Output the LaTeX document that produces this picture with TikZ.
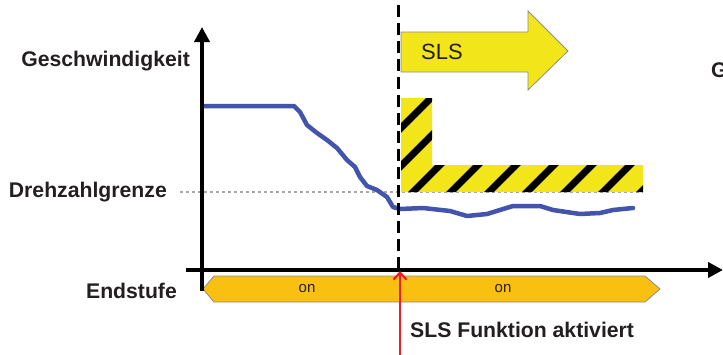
\documentclass[tikz,border=0pt]{standalone}
\usepackage{fontspec}
\setmainfont{Liberation Sans}
\usepackage{xcolor}
\usetikzlibrary{arrows.meta}

\definecolor{slsyellow}{HTML}{F2E61A}
\definecolor{onorange}{HTML}{F9C012}
\definecolor{speedblue}{HTML}{4254AC}
\definecolor{limitgrey}{HTML}{A8A8A8}
\definecolor{txtblack}{HTML}{231F20}
\definecolor{actred}{HTML}{EE1C25}

\tikzset{
  axis/.style={line width=4pt,-{Triangle[length=15pt,width=15pt]}},
  biglabel/.style={font=\bfseries\fontsize{21.2}{23}\selectfont,text=txtblack,inner sep=0pt},
  onlabel/.style={font=\fontsize{15}{17}\selectfont,text=txtblack,inner sep=0pt},
  outline/.style={draw=black!45,line width=.8pt},
}

\begin{document}
\begin{tikzpicture}[x=1pt,y=-1pt]
    \useasboundingbox (0,0) rectangle (723,354);
    % limit line
    \draw[limitgrey,line width=1.4pt,dash pattern=on 3pt off 3pt] (180,192) -- (643,192);
    % hatched band
    \begin{scope}
      \clip (401,98) -- (432,98) -- (432,165) -- (643,165) -- (643,192) -- (401,192) -- cycle;
      \fill[slsyellow] (401,98) rectangle (643,192);
      \foreach \k in {-4,...,6}{
        \draw[line width=7pt] (393+38*\k,212) -- ++(130,-130);
      }
    \end{scope}
    % SLS arrow
    \draw[outline,fill=slsyellow] (401,32) -- (528,32) -- (528,11) -- (568,51)
      -- (528,90) -- (528,72) -- (401,72) -- cycle;
    \node[font=\fontsize{22}{24}\selectfont,text=txtblack,inner sep=0pt] (slslbl) at (442,52) {SLS};
    % speed
    \draw[speedblue,line width=4.5pt,line join=round,line cap=round]
      (204,106) -- (294,106) -- (300,112) -- (307,125) -- (317,133) -- (327,140)
      -- (337,148) -- (347,160) -- (355,167) -- (360,177) -- (367,186) -- (377,190)
      -- (387,197) -- (393,207) -- (400,209) -- (423,208) -- (450,211) -- (467,216)
      -- (487,214) -- (513,206) -- (540,206) -- (553,210) -- (580,214) -- (600,213)
      -- (613,210) -- (633,208);
    % activation line
    \draw[line width=3pt,dash pattern=on 12pt off 6pt] (398,5) -- (398,270);
    % output stage
    \draw[outline,fill=onorange] (203,289) -- (214,276) -- (645,276) -- (660,289)
      -- (645,302) -- (214,302) -- cycle;
    \node[onlabel] (onA) at (307,289) {on};
    \node[onlabel] (onB) at (503,289) {on};
    % axes
    \coordinate (ybot) at (202,291);
    \coordinate (ytop) at (202,27);
    \coordinate (xleft) at (186,270);
    \coordinate (xright) at (723,270);
    \draw[axis] (ybot) -- (ytop);
    \draw[axis] (xleft) -- (xright);
    % activation arrow
    \coordinate (actfoot) at (400,356);
    \coordinate (acthead) at (400,271);
    \draw[actred,line width=2.2pt,-{Straight Barb[length=7pt,width=13pt]}] (actfoot) -- (acthead);
    % labels
    \node[biglabel,anchor=east] (speedlbl) at (190,61) {Geschwindigkeit};
    \node[biglabel,anchor=east] (limitlbl) at (167,192) {Drehzahlgrenze};
    \node[biglabel,anchor=east] (stagelbl) at (177,291) {Endstufe};
    \node[biglabel,anchor=west] (actlbl) at (410,330) {SLS Funktion aktiviert};
    \node[biglabel,anchor=west] (cutG) at (711,70) {G};
\end{tikzpicture}
\end{document}
